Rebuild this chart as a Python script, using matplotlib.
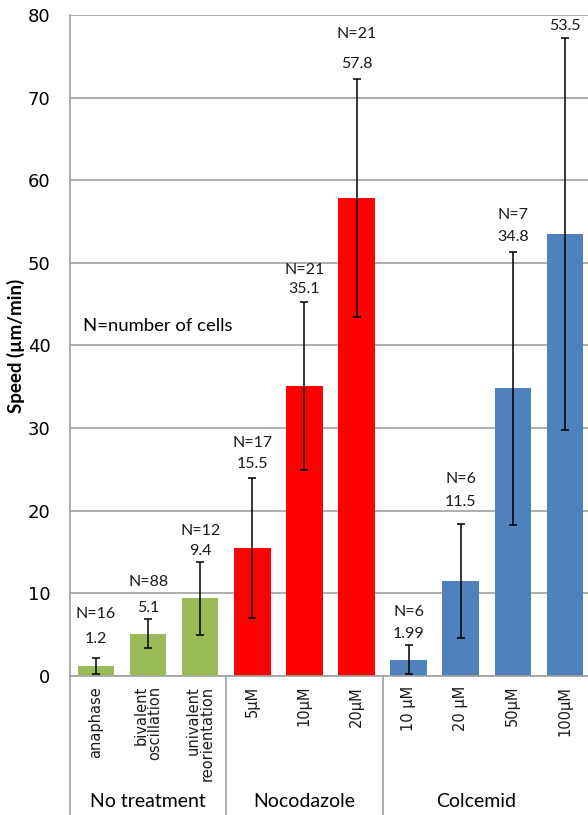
import matplotlib
matplotlib.use("Agg")
import matplotlib.pyplot as plt

# data
categories = ["anaphase", "bivalent\noscillation", "univalent\nreorientation",
              "5\u00b5M", "10\u00b5M", "20\u00b5M",
              "10 \u00b5M", "20 \u00b5M", "50\u00b5M", "100\u00b5M"]
speeds = [1.2, 5.1, 9.4, 15.5, 35.1, 57.8, 1.99, 11.5, 34.8, 53.5]
errors = [0.95, 1.75, 4.4, 8.5, 10.2, 14.4, 1.76, 6.9, 16.5, 23.7]
value_labels = ["1.2", "5.1", "9.4", "15.5", "35.1", "57.8", "1.99", "11.5", "34.8", "53.5"]
n_labels = ["N=16", "N=88", "N=12", "N=17", "N=21", "N=21", "N=6", "N=6", "N=7", ""]
groups = ["No treatment", "Nocodazole", "Colcemid"]
group_sizes = [3, 3, 4]
group_colors = ["#9bbb59", "#ff0000", "#4f81bd"]

# label offsets above the error bar cap, in points
val_off = [14, 8, 8, 10, 9, 11, 8, 16, 11, 9]
n_off = [32, 27, 22, 25, 23, 33, 24, 32, 27, 0]

fig = plt.figure(figsize=(5.88, 8.15), dpi=100)
ax = fig.add_axes([0.119, 0.1706, 0.886, 0.811])

colors = []
for c, n in zip(group_colors, group_sizes):
    colors += [c] * n
x = list(range(len(categories)))

ax.set_axisbelow(True)
ax.yaxis.grid(True, color="#a0a0a0", linewidth=1.2)
ax.bar(x, speeds, width=0.7, color=colors, zorder=2)
ax.errorbar(x, speeds, yerr=errors, fmt="none", ecolor="black",
            elinewidth=1.1, capsize=3, capthick=1.1, zorder=3)

for i in x:
    top = speeds[i] + errors[i]
    ax.annotate(value_labels[i], (i, top), xytext=(0, val_off[i]),
                textcoords="offset points", ha="center", va="center",
                fontsize=11.5, family="Lato", color="#1a1a1a",
                annotation_clip=False)
    if n_labels[i]:
        ax.annotate(n_labels[i], (i, top), xytext=(0, n_off[i]),
                    textcoords="offset points", ha="center", va="center",
                    fontsize=11.5, family="Lato", color="#1a1a1a",
                    annotation_clip=False)

ax.set_xlim(-0.5, len(categories) - 0.5)
ax.set_ylim(0, 80)
ax.set_yticks(range(0, 81, 10))
ax.tick_params(axis="y", length=0, pad=14, labelsize=13)
ax.set_xticks([])
for s in ["top", "right"]:
    ax.spines[s].set_visible(False)
ax.spines["left"].set_color("#a0a0a0")
ax.spines["bottom"].set_color("#a0a0a0")
ax.spines["left"].set_linewidth(1.2)
ax.spines["bottom"].set_linewidth(1.2)

ax.set_ylabel("Speed (\u00b5m/min)", family="Lato", fontweight="bold",
              fontsize=13.5, labelpad=2)

ax.text(0.025, 0.53, "N=number of cells", transform=ax.transAxes,
        family="Lato", fontsize=13.3, va="center", ha="left")

# category labels under the axis
trans = ax.get_xaxis_transform()
for i, lab in enumerate(categories):
    ax.text(i, -0.015, lab, transform=trans, rotation=90, ha="center",
            va="top", multialignment="right", fontsize=10.5,
            linespacing=0.9, color="#1a1a1a")

# group separators and group names
bounds = [-0.5]
for n in group_sizes:
    bounds.append(bounds[-1] + n)
for b in bounds[:-1]:
    ax.plot([b, b], [0, -0.3], transform=trans, color="#a0a0a0",
            linewidth=1.2, clip_on=False)
group_shift = [0, 0, -0.2]
for g, lo, hi, sh in zip(groups, bounds[:-1], bounds[1:], group_shift):
    ax.text((lo + hi) / 2 + sh, -0.19, g, transform=trans, ha="center",
            va="center", family="Lato", fontsize=14)

fig.savefig("out.png", dpi=100)
